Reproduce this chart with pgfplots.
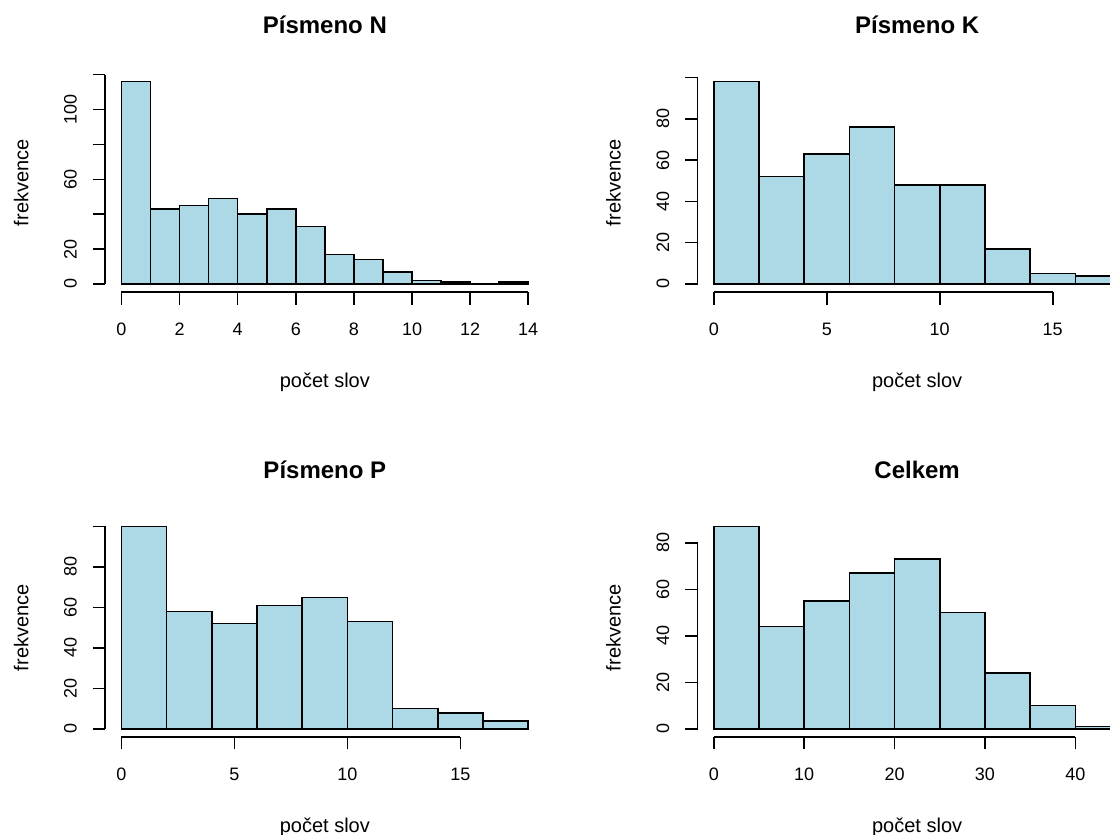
\documentclass[border=0pt]{standalone}
\usepackage{fontspec}
\setmainfont{Liberation Sans}
\usepackage{pgfplots}
\pgfplotsset{compat=1.18}
\definecolor{lb}{HTML}{ADD8E6}
\pgfplotsset{
  rhist/.style={
    scale only axis, width=219.65pt, height=109.3pt,
    clip=false,
    axis x line*=bottom, axis y line*=left,
    axis line style={draw=none},
    tick align=outside,
    major tick length=6.25pt,
    tick style={black, line width=0.8pt},
    xticklabel style={font=\fontsize{9}{11}\selectfont, anchor=base, yshift=-15.6pt},
    yticklabel style={font=\fontsize{9}{11}\selectfont, xshift=-8pt, rotate=90, anchor=base},
    every axis title/.style={at={(axis description cs:0.5,1)}, anchor=base, yshift=19.95pt, font=\bfseries\fontsize{12}{14}\selectfont},
    every axis x label/.style={at={(axis description cs:0.5,0)}, anchor=base, yshift=-47.6pt, font=\fontsize{10}{12}\selectfont},
    every axis y label/.style={at={(axis description cs:0,0.5)}, xshift=-38.45pt, rotate=90, anchor=base, font=\fontsize{10}{12}\selectfont},
    xlabel={počet slov}, ylabel={frekvence},
  },
  rbar/.style={ybar interval, fill=lb, draw=black, line width=0.8pt},
}
\begin{document}
\begin{tikzpicture}
\useasboundingbox (0,0) rectangle (555pt,417.5pt);
\clip (0,0) rectangle (555pt,417.5pt);
% Pismeno N
\begin{axis}[rhist, at={(52.6pt,271.45pt)}, anchor=south west,
  title={Písmeno N},
  xmin=-0.56, xmax=14.56, ymin=-4.64, ymax=120.64,
  xtick={0,2,4,6,8,10,12,14}, xticklabels={0,2,4,6,8,10,12,14},
  ytick={0,20,40,60,80,100,120}, yticklabels={0,20,,60,,100,}]
\addplot[rbar] coordinates {(0,116) (1,43) (2,45) (3,49) (4,40) (5,43) (6,33) (7,17) (8,14) (9,7) (10,2) (11,1) (12,0) (13,1) (14,0)};
\draw[line width=0.8pt] (axis cs:0,-4.64) -- (axis cs:14,-4.64);
\draw[line width=0.8pt] (axis cs:-0.56,0) -- (axis cs:-0.56,120);
\end{axis}
% Pismeno K
\begin{axis}[rhist, at={(348.75pt,271.45pt)}, anchor=south west,
  title={Písmeno K},
  xmin=-0.72, xmax=18.72, ymin=-3.92, ymax=101.92,
  xtick={0,5,10,15}, xticklabels={0,5,10,15},
  ytick={0,20,40,60,80,100}, yticklabels={0,20,40,60,80,}]
\addplot[rbar] coordinates {(0,98) (2,52) (4,63) (6,76) (8,48) (10,48) (12,17) (14,5) (16,4) (18,0)};
\draw[line width=0.8pt] (axis cs:0,-3.92) -- (axis cs:15,-3.92);
\draw[line width=0.8pt] (axis cs:-0.72,0) -- (axis cs:-0.72,100);
\end{axis}
% Pismeno P
\begin{axis}[rhist, at={(52.6pt,49pt)}, anchor=south west,
  title={Písmeno P},
  xmin=-0.72, xmax=18.72, ymin=-4, ymax=104,
  xtick={0,5,10,15}, xticklabels={0,5,10,15},
  ytick={0,20,40,60,80,100}, yticklabels={0,20,40,60,80,}]
\addplot[rbar] coordinates {(0,100) (2,58) (4,52) (6,61) (8,65) (10,53) (12,10) (14,8) (16,4) (18,0)};
\draw[line width=0.8pt] (axis cs:0,-4) -- (axis cs:15,-4);
\draw[line width=0.8pt] (axis cs:-0.72,0) -- (axis cs:-0.72,100);
\end{axis}
% Celkem
\begin{axis}[rhist, at={(348.75pt,49pt)}, anchor=south west,
  title={Celkem},
  xmin=-1.8, xmax=46.8, ymin=-3.48, ymax=90.48,
  xtick={0,10,20,30,40}, xticklabels={0,10,20,30,40},
  ytick={0,20,40,60,80}, yticklabels={0,20,40,60,80}]
\addplot[rbar] coordinates {(0,87) (5,44) (10,55) (15,67) (20,73) (25,50) (30,24) (35,10) (40,1) (45,0)};
\draw[line width=0.8pt] (axis cs:0,-3.48) -- (axis cs:40,-3.48);
\draw[line width=0.8pt] (axis cs:-1.8,0) -- (axis cs:-1.8,80);
\end{axis}
\end{tikzpicture}
\end{document}
